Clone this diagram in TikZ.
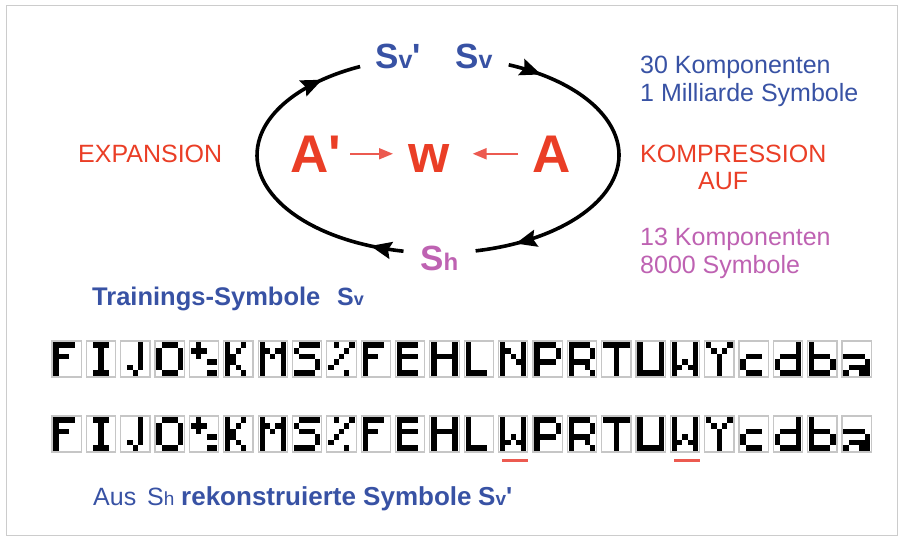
\documentclass[tikz,border=0pt]{standalone}
\usepackage{fontspec}
\setmainfont{Liberation Sans}
\usetikzlibrary{arrows.meta,decorations.markings}
\definecolor{cblue}{RGB}{56,82,164}
\definecolor{cred}{RGB}{234,62,38}
\definecolor{cpink}{RGB}{190,98,178}
\definecolor{clred}{RGB}{236,90,80}
\newcommand\fs[1]{\fontsize{#1}{#1}\selectfont}
% pixel glyph machinery (5 columns x 6 rows)
\def\pw{5.3}
\def\ph{5.55}
\def\growx#1#2#3#4#5\relax{\gpix{0}{#1}\gpix{1}{#2}\gpix{2}{#3}\gpix{3}{#4}\gpix{4}{#5}}
\def\gpix#1#2{\ifnum#2=1 \fill[black] ({\gx+#1*\pw},{\gy+\j*\ph}) rectangle ++(\pw,\ph);\fi}
\newcommand\glyphat[3]{%
  \edef\gx{#1}\edef\gy{#2}\edef\glist{#3}%
  \foreach \grw [count=\j from 0] in \glist {\expandafter\growx\grw\relax}%
}
\def\glF{11110,10000,11100,10000,10000,10000}
\def\glI{01110,00100,00100,00100,00100,01110}
\def\glJ{00010,00010,00010,00010,01010,00100}
\def\glO{01110,10001,10001,10001,10001,01110}
\def\glPE{01000,11100,01000,00011,00000,00011}
\def\glK{10010,10100,11000,11000,10100,10010}
\def\glM{10001,11011,10101,10001,10001,10001}
\def\glS{01111,10000,01110,00001,00001,11110}
\def\glPC{01001,00010,00100,01000,10000,00010}
\def\glE{11110,10000,11110,10000,10000,11110}
\def\glH{10001,10001,11111,10001,10001,10001}
\def\glL{10000,10000,10000,10000,10000,11110}
\def\glN{10001,11001,10101,10011,10001,10001}
\def\glP{11110,10001,10001,11110,10000,10000}
\def\glR{11110,10001,10001,11110,10010,10001}
\def\glT{11111,00100,00100,00100,00100,00100}
\def\glU{10001,10001,10001,10001,10001,11111}
\def\glW{10001,10001,10001,10101,11011,10001}
\def\glY{10001,01010,00100,00100,00100,00100}
\def\glc{00000,00000,01110,10000,10000,01110}
\def\gld{00001,00001,01111,10001,10001,01111}
\def\glb{10000,10000,11110,10001,10001,11110}
\def\gla{00000,00000,11110,00001,01111,10011}
\begin{document}
\begin{tikzpicture}[x=1pt,y=-1pt,
  txt/.style={inner sep=0pt, anchor=base west},
  gbox/.style={draw=gray!45, line width=1.2pt},
  cyc/.style={line width=3.6pt, black,
    postaction={decorate, decoration={markings,
      mark=at position 0.1 with {\arrow{Stealth[length=21pt,width=17pt,inset=3pt]}},
      mark=at position 0.88 with {\arrow{Stealth[length=21pt,width=17pt,inset=3pt]}}}}},
  redarr/.style={clred, line width=2pt, -{Triangle[length=14pt,width=11pt]}}]
\useasboundingbox (0,0) rectangle (901,538);
\draw[gray!40, line width=1pt] (6,5) rectangle (897,535);

% cycle
\coordinate (p1) at (508.7,64.8);
\coordinate (p3) at (403.5,251.2);
\draw[cyc] (p1) arc[start angle=67, end angle=-78, x radius=181pt, y radius=98pt];
\draw[cyc] (p3) arc[start angle=259, end angle=115.5, x radius=181pt, y radius=98pt];

\node[txt, text=cblue, font=\bfseries\fs{35}] (svp) at (375,68) {S{\fs{25}v}\textquotesingle};
\node[txt, text=cblue, font=\bfseries\fs{35}] (sv) at (455,68) {S{\fs{25}v}};
\node[txt, text=cpink, font=\bfseries\fs{35}] (sh) at (420,270) {S{\fs{24}h}};

\node[txt, text=cred, font=\bfseries\fs{53}] (Ap) at (290,172) {A\textquotesingle};
\node[txt, text=cred, font=\bfseries\fs{53}] (w) at (408,172) {w};
\node[txt, text=cred, font=\bfseries\fs{53}] (A) at (532,172) {A};
\draw[redarr, shorten <=9pt, shorten >=15pt] (Ap.east) -- (w.west |- Ap.east);
\draw[redarr, shorten <=14pt, shorten >=23pt] (A.west) -- (w.east |- A.west);

\node[txt, text=cred, font=\fs{25}] (exp) at (78,162) {EXPANSION};
\node[txt, text=cred, font=\fs{25}] (komp) at (640,162) {KOMPRESSION};
\node[txt, text=cred, font=\fs{25}] (auf) at (698,189) {AUF};
\node[txt, text=cblue, font=\fs{25}] (k30) at (640,73) {30 Komponenten};
\node[txt, text=cblue, font=\fs{25}] (mil) at (640,101) {1 Milliarde Symbole};
\node[txt, text=cpink, font=\fs{25}] (k13) at (640,245) {13 Komponenten};
\node[txt, text=cpink, font=\fs{25}] (s8) at (640,273) {8000 Symbole};

\node[txt, text=cblue, font=\bfseries\fs{25.5}] (train) at (92,305) {Trainings-Symbole};
\node[txt, text=cblue, font=\bfseries\fs{25}] (sv2) at (337,305) {S{\fs{18}v}};

% symbol rows
\foreach \gname [count=\i from 0] in {F,I,J,O,PE,K,M,S,PC,F,E,H,L,N,P,R,T,U,W,Y,c,d,b,a} {
  \pgfmathsetmacro\bx{52+\i*34.35}
  \draw[gbox] (\bx,341) rectangle ++(29.3,36);
  \glyphat{\bx+1.4}{342.4}{\csname gl\gname\endcsname}
}
\foreach \gname [count=\i from 0] in {F,I,J,O,PE,K,M,S,PC,F,E,H,L,W,P,R,T,U,W,Y,c,d,b,a} {
  \pgfmathsetmacro\bx{52+\i*34.35}
  \draw[gbox] (\bx,416) rectangle ++(29.3,36);
  \glyphat{\bx+1.4}{417.4}{\csname gl\gname\endcsname}
}
\fill[clred] ({52+13*34.35+3},458.5) rectangle ++(26,3);
\fill[clred] ({52+18*34.35+4},458.5) rectangle ++(26,3);

\node[txt, text=cblue, font=\fs{25}] (aus) at (93,505) {Aus};
\node[txt, text=cblue, font=\fs{25}] (sh2) at (147,505) {S{\fs{19}h}};
\node[txt, text=cblue, font=\bfseries\fs{26}] (rek) at (181,505) {rekonstruierte Symbole};
\node[txt, text=cblue, font=\bfseries\fs{26}] (sv3) at (478,505) {S{\fs{19}v}\textquotesingle};
\end{tikzpicture}
\end{document}
